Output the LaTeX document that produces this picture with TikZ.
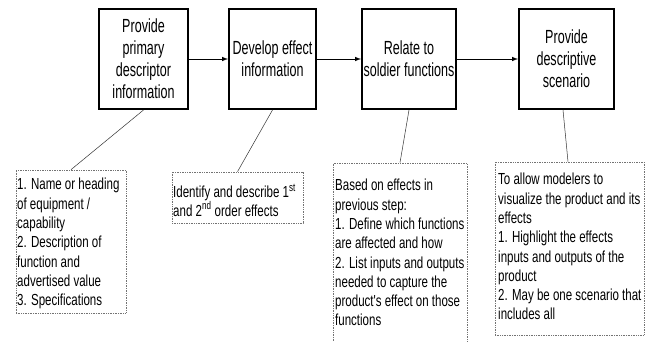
\documentclass[tikz,border=0pt]{standalone}
\usepackage{fontspec}
\setmainfont{Liberation Sans}
\newfontfamily\titlefont[FakeStretch=0.66]{Liberation Sans}
\newfontfamily\notefont[FakeStretch=0.72]{Liberation Sans}
\usetikzlibrary{arrows,positioning}

\begin{document}
\begin{tikzpicture}
	[
		x=1pt, y=-1pt,
		stepnode/.style={rectangle, draw=black, line width=2pt, minimum height=100pt, align=center, inner sep=0pt, font=\titlefont\fontsize{19}{22}\selectfont},
		notebox/.style={rectangle, draw=black!55, densely dotted, line width=0.7pt, inner sep=0pt},
		notetext/.style={anchor=north west, align=left, inner sep=0pt, font=\notefont\fontsize{16}{19.3}\selectfont},
		leader/.style={draw=black!80, line width=0.5pt},
	]

	\clip (0,0) rectangle (645,341);
	\fill[white] (0,0) rectangle (645,341);

	% process steps
	\node[stepnode, minimum width=89pt] (primary) at (143.5,59) {Provide\\primary\\descriptor\\information};
	\node[stepnode, minimum width=87pt] (effect) at (272.5,59) {Develop effect\\information};
	\node[stepnode, minimum width=94pt] (relate) at (409,59) {Relate to\\soldier functions};
	\node[stepnode, minimum width=95pt] (scenario) at (566.5,59) {Provide\\descriptive\\scenario};

	\draw[-latex, line width=1pt] (primary) -- (effect);
	\draw[-latex, line width=1pt] (effect) -- (relate);
	\draw[-latex, line width=1pt] (relate) -- (scenario);

	% notes under each step
	\node[notebox, minimum width=110pt, minimum height=143pt] (primarynote) at (71,241.5) {};
	\node[notebox, minimum width=131pt, minimum height=51pt] (effectnote) at (237.5,197.5) {};
	\node[notebox, minimum width=134pt, minimum height=182pt] (relatenote) at (400,254) {};
	\node[notebox, minimum width=149pt, minimum height=173pt] (scenarionote) at (569.5,248.5) {};

	\node[notetext] (primarytext) at (17,178) {1. Name or heading\\of equipment /\\capability\\2. Description of\\function and\\advertised value\\3. Specifications};
	\node[notetext, font=\notefont\fontsize{16}{18.3}\selectfont] (effecttext) at (173,184) {Identify and describe 1\textsuperscript{st}\\and 2\textsuperscript{nd} order effects};
	\node[notetext] (relatetext) at (335,179) {Based on effects in\\previous step:\\1. Define which functions\\are affected and how\\2. List inputs and outputs\\needed to capture the\\product's effect on those\\functions};
	\node[notetext] (scenariotext) at (498,173) {To allow modelers to\\visualize the product and its\\effects\\1. Highlight the effects\\inputs and outputs of the\\product\\2. May be one scenario that\\includes all};

	\draw[leader] (primary.south) -- (primarynote.north);
	\draw[leader] (effect.south) -- (effectnote.north);
	\draw[leader] (relate.south) -- (relatenote.north);
	\draw[leader] ([xshift=-3.5pt]scenario.south) -- ([xshift=-1.5pt]scenarionote.north);

\end{tikzpicture}
\end{document}
